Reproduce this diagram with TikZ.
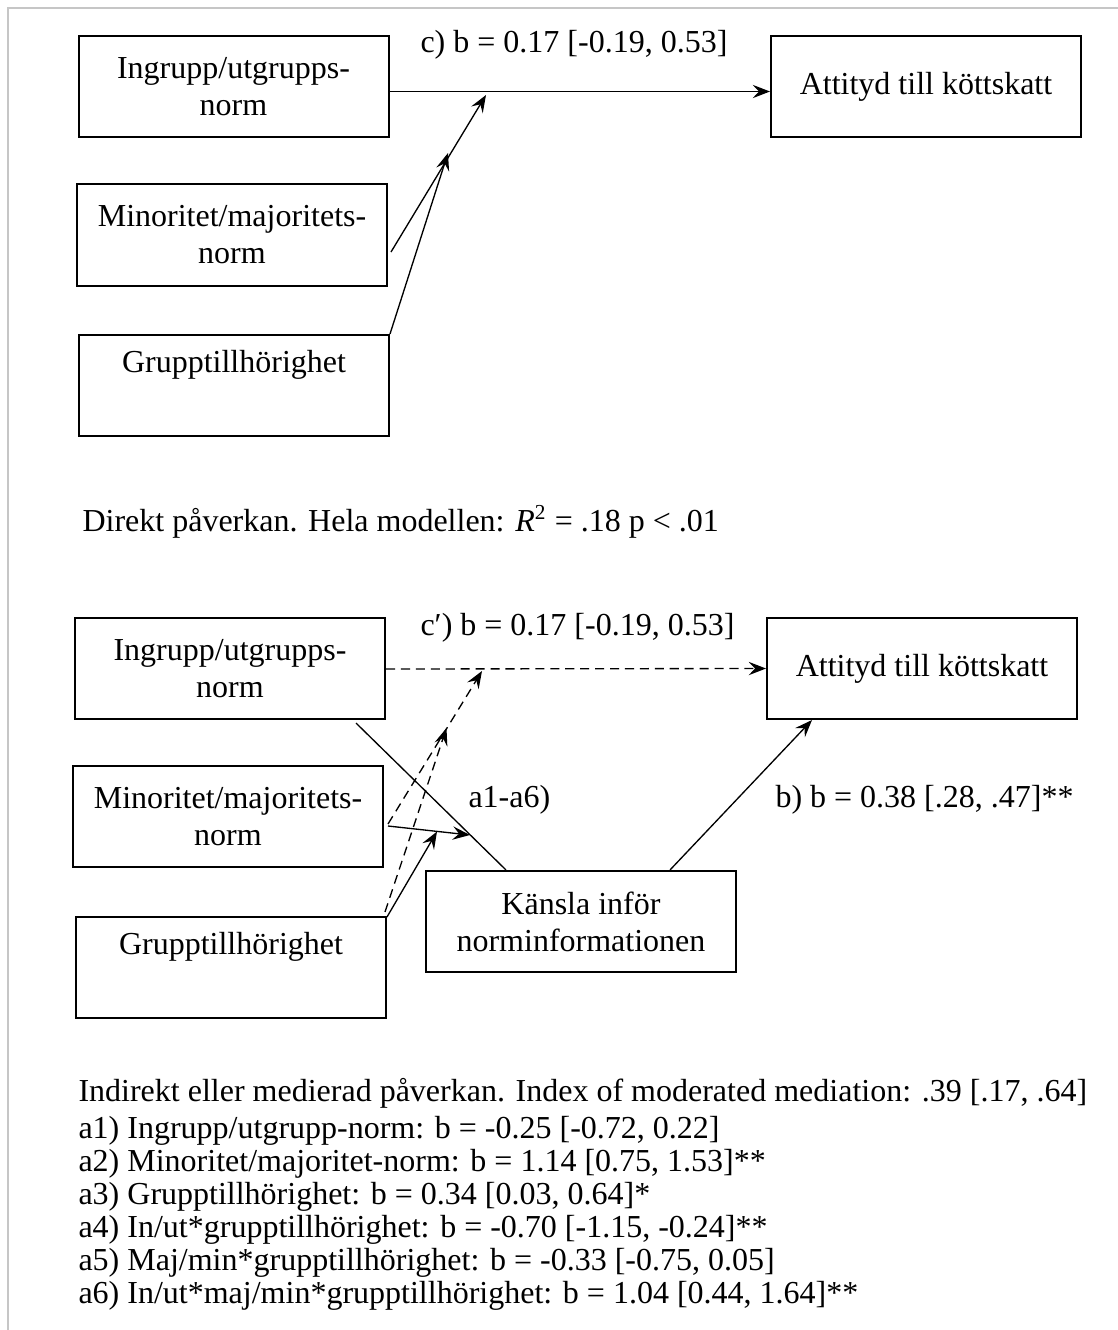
\documentclass[tikz,border=0pt]{standalone}
\usepackage{fontspec}
\setmainfont{Liberation Serif}
\usetikzlibrary{shapes, arrows.meta, positioning, calc}

\begin{document}
\begin{tikzpicture}[x=0.375pt, y=-0.375pt,
  every node/.style={font=\fontsize{12pt}{13.875pt}\selectfont, inner sep=0pt},
  box/.style={draw, rectangle, line width=0.75pt, minimum width=116.25pt, minimum height=37.9pt, align=center},
  pfeil/.style={-{Stealth[length=6.5pt, width=5pt, inset=2.4pt]}, line width=0.5pt},
  streck/.style={dash pattern=on 3.4pt off 2.2pt}]
  \useasboundingbox (0,0) rectangle (1118,1330);
  \draw[gray!45, line width=0.75pt] (8,1330) -- (8,8) -- (1118,8);

  % direkt
  \node[box] (I1) at (233.5,86.5) {Ingrupp/utgrupps-\\norm};
  \node[box] (M1) at (232,235) {Minoritet/majoritets-\\norm};
  \node[box] (G1) at (234,385.5) {Grupptillhörighet\\\strut};
  \node[box] (A1) at (926,86.5) {Attityd till köttskatt};
  \node[anchor=west] (lc) at (420,45) {c) b = 0.17 [-0.19, 0.53]};
  \coordinate (cjoin) at (486,95);
  \coordinate (gjoin) at (448,153);
  \draw[pfeil] ($(I1.east)+(0,5)$) -- ($(A1.west)+(0,5)$);
  \draw[pfeil] ($(M1.east)+(3,17)$) -- (cjoin);
  \draw[pfeil] (G1.north east) -- (gjoin);
  \node[anchor=west] (direkt) at (82,522) {Direkt påverkan. Hela modellen: \textit{R}\textsuperscript{2} = .18 p < .01};

  % indirekt
  \node[box] (I2) at (230,668.5) {Ingrupp/utgrupps-\\norm};
  \node[box] (M2) at (228,816.5) {Minoritet/majoritets-\\norm};
  \node[box] (G2) at (231,967.5) {Grupptillhörighet\\\strut};
  \node[box] (A2) at (922,668.5) {Attityd till köttskatt};
  \node[box] (K) at (581,921.5) {Känsla inför\\norminformationen};
  \node[anchor=west] (lcc) at (420,628) {c′) b = 0.17 [-0.19, 0.53]};
  \node[anchor=west] (la) at (468,800) {a1-a6)};
  \node[anchor=west] (lb) at (775,800) {b) b = 0.38 [.28, .47]**};
  \coordinate (cjoin2) at (482,671);
  \coordinate (gjoin2) at (446.5,728);
  \coordinate (ajoin) at (470,835);
  \coordinate (gjoin3) at (437,831.5);
  \draw[pfeil, streck] ($(I2.east)+(0,0.5)$) -- (A2.west);
  \draw[pfeil, streck] ($(M2.east)+(4,7.5)$) -- (cjoin2);
  \draw[pfeil, streck] ($(G2.north east)+(-2,-4)$) -- (gjoin2);
  \draw[line width=0.5pt] ($(I2.south east)+(-30,3)$) -- ($(K.north)+(-75,0)$);
  \draw[pfeil] ($(M2.east)+(4,9.5)$) -- (ajoin);
  \draw[pfeil] ($(G2.north east)+(0,1)$) -- (gjoin3);
  \draw[pfeil] ($(K.north)+(89,0)$) -- ($(A2.south)+(-110,0)$);

  \node[anchor=west] (ind) at (78,1093) {Indirekt eller medierad påverkan. Index of moderated mediation: .39 [.17, .64]};
  \node[anchor=west] (a1) at (78,1131) {a1) Ingrupp/utgrupp-norm: b = -0.25 [-0.72, 0.22]};
  \node[anchor=west] (a2) at (78,1164) {a2) Minoritet/majoritet-norm: b = 1.14 [0.75, 1.53]**};
  \node[anchor=west] (a3) at (78,1197) {a3) Grupptillhörighet: b = 0.34 [0.03, 0.64]*};
  \node[anchor=west] (a4) at (78,1230) {a4) In/ut*grupptillhörighet: b = -0.70 [-1.15, -0.24]**};
  \node[anchor=west] (a5) at (78,1263) {a5) Maj/min*grupptillhörighet: b = -0.33 [-0.75, 0.05]};
  \node[anchor=west] (a6) at (78,1296) {a6) In/ut*maj/min*grupptillhörighet: b = 1.04 [0.44, 1.64]**};
\end{tikzpicture}
\end{document}
